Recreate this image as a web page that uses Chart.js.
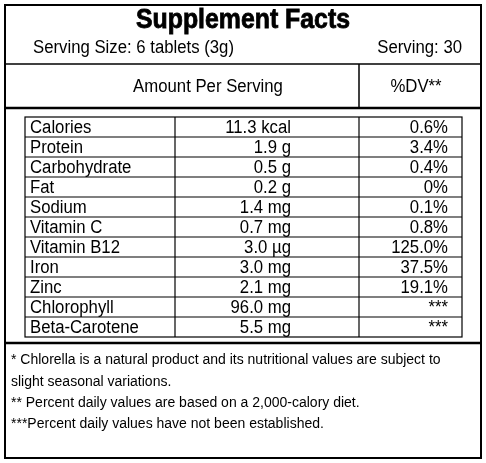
<!DOCTYPE html>
<html><head><meta charset="utf-8">
<script src="https://cdn.jsdelivr.net/npm/chart.js@4/dist/chart.umd.min.js"></script>
<style>html,body{margin:0;padding:0;background:#fff}canvas{display:block}</style>
</head><body>
<canvas id="c" width="486" height="463"></canvas>
<script>
const title = "Supplement Facts";
const servingSize = "Serving Size: 6 tablets (3g)";
const servings = "Serving: 30";
const headerLeft = "Amount Per Serving";
const headerRight = "%DV**";
const nutrients = ["Calories","Protein","Carbohydrate","Fat","Sodium","Vitamin C","Vitamin B12","Iron","Zinc","Chlorophyll","Beta-Carotene"];
const amounts = ["11.3 kcal","1.9 g","0.5 g","0.2 g","1.4 mg","0.7 mg","3.0 µg","3.0 mg","2.1 mg","96.0 mg","5.5 mg"];
const dailyValues = ["0.6%","3.4%","0.4%","0%","0.1%","0.8%","125.0%","37.5%","19.1%","***","***"];
const footnotes = ["* Chlorella is a natural product and its nutritional values are subject to","slight seasonal variations.","** Percent daily values are based on a 2,000-calory diet.","***Percent daily values have not been established."];

const F = "'Liberation Sans',Arial,sans-serif";
const tablePlugin = {
  id: 'table',
  afterDraw(chart) {
    const ctx = chart.ctx, y = chart.scales.y;
    const step = y.getPixelForValue(1) - y.getPixelForValue(0);
    const top = y.getPixelForValue(0) - step/2, bot = y.getPixelForValue(nutrients.length-1) + step/2;
    ctx.save();
    ctx.strokeStyle = '#000'; ctx.fillStyle = '#000';
    const line = (x1,y1,x2,y2,w)=>{ctx.lineWidth=w;ctx.beginPath();ctx.moveTo(x1,y1);ctx.lineTo(x2,y2);ctx.stroke();};
    ctx.lineWidth = 2; ctx.strokeRect(5,5,476,453);
    line(5,64,481,64,1.5);
    line(5,108,481,108,2.5);
    line(5,343,481,343,2.5);
    line(359,64,359,108,1.5);
    ctx.lineWidth = 1.2; ctx.strokeRect(25,top,437,bot-top);
    line(175,top,175,bot,1.2); line(359,top,359,bot,1.2);
    for (let i=1;i<nutrients.length;i++){ const yy=top+i*step; line(25,yy,462,yy,1.2); }
    ctx.textBaseline='middle';
    ctx.font = "900 27px 'Liberation Sans',Arial,sans-serif";
    ctx.textAlign='center'; ctx.save(); ctx.translate(243,21); ctx.scale(0.92,1); ctx.fillText(title,0,0); ctx.strokeStyle='#000'; ctx.lineWidth=0.8; ctx.strokeText(title,0,0); ctx.restore();
    const txt=(s,x,yy,al)=>{ctx.save();ctx.translate(x,yy);ctx.scale(0.93,1);ctx.textAlign=al;ctx.fillText(s,0,0);ctx.restore();};
    ctx.font = "18px "+F;
    txt(servingSize,33,48,'left');
    txt(servings,462,48,'right');
    txt(headerLeft,208,87,'center'); txt(headerRight,416,87,'center');
    nutrients.forEach((n,i)=>{
      const yy = y.getPixelForValue(i)+1;
      txt(n,30,yy,'left');
      txt(amounts[i],291,yy,'right'); txt(dailyValues[i],448,yy,'right');
    });
    ctx.font = "14px "+F; ctx.textAlign='left';
    const fy=[360,382,403,424];
    footnotes.forEach((t,i)=>ctx.fillText(t,11,fy[i]));
    ctx.restore();
  }
};
new Chart(document.getElementById('c'), {
  type: 'bar',
  data: { labels: nutrients, datasets: [{ data: nutrients.map(()=>0), backgroundColor:'rgba(0,0,0,0)' }] },
  options: {
    responsive:false, animation:false, indexAxis:'y',
    layout:{padding:{top:117,bottom:126,left:25,right:24}},
    plugins:{legend:{display:false},tooltip:{enabled:false}},
    scales:{ x:{display:false,min:0,max:1}, y:{display:false,offset:true} }
  },
  plugins:[tablePlugin]
});
</script>
</body></html>
